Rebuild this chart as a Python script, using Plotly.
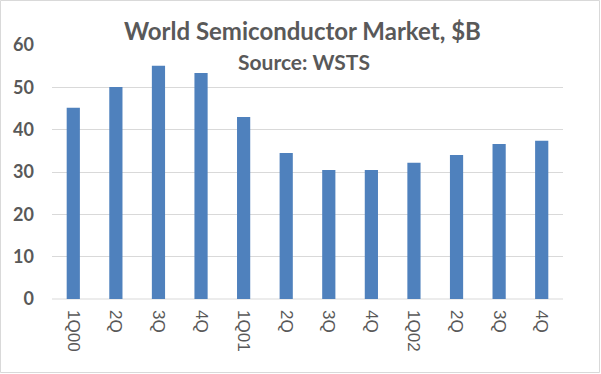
import plotly.graph_objects as go

tick_labels = ["1Q00", "2Q", "3Q", "4Q", "1Q01", "2Q", "3Q", "4Q", "1Q02", "2Q", "3Q", "4Q"]
values = [45.2, 50.1, 55.1, 53.4, 43.0, 34.5, 30.5, 30.5, 32.2, 34.0, 36.6, 37.4]
y_ticks = [0, 10, 20, 30, 40, 50, 60]

W, H = 601, 374
L, R, T, B = 52, 38, 45, 75
PW, PH = W - L - R, H - T - B

def px(x):
    return (x - L) / PW

def py(y):
    return (H - B - y) / PH

GRAY = "#595959"

fig = go.Figure()
fig.add_trace(go.Bar(x=list(range(len(values))), y=values, marker_color="#4F81BD",
                     marker_line_width=0, width=0.31))

fig.update_layout(
    width=W, height=H,
    margin=dict(l=L, r=R, t=T, b=B),
    paper_bgcolor="white", plot_bgcolor="white",
    showlegend=False,
    xaxis=dict(
        tickmode="array", tickvals=list(range(len(values))), ticktext=tick_labels,
        range=[-0.5, len(values) - 0.5],
        tickangle=90, showgrid=False, zeroline=False, showline=False,
        ticks="", ticklabelstandoff=10,
        tickfont=dict(family="Liberation Sans", size=17, color=GRAY),
    ),
    yaxis=dict(
        range=[0, 60], tickvals=y_ticks, showgrid=True, gridcolor="#D9D9D9", gridwidth=1,
        zeroline=False, showline=False, ticks="", ticklabelstandoff=17,
        tickfont=dict(family="Lato", size=18, color=GRAY, weight="bold"),
    ),
    annotations=[
        dict(text="<b>World Semiconductor Market, $B</b>", xref="paper", yref="paper",
             x=px(302), y=py(30), xanchor="center", yanchor="middle", showarrow=False,
             font=dict(family="Lato", size=24, color=GRAY)),
        dict(text="<b>Source: WSTS</b>", xref="paper", yref="paper",
             x=px(304), y=py(61), xanchor="center", yanchor="middle", showarrow=False,
             font=dict(family="Lato", size=21, color=GRAY)),
    ],
    shapes=[
        dict(type="rect", xref="paper", yref="paper", x0=px(0.5), x1=px(599.5),
             y0=py(372.5), y1=py(0.5), line=dict(color="#D9D9D9", width=1), layer="below"),
        dict(type="line", xref="paper", yref="paper", x0=0, x1=1, y0=0, y1=0,
             line=dict(color="#D9D9D9", width=1), layer="below"),
    ],
)

fig.write_html("out.html")
